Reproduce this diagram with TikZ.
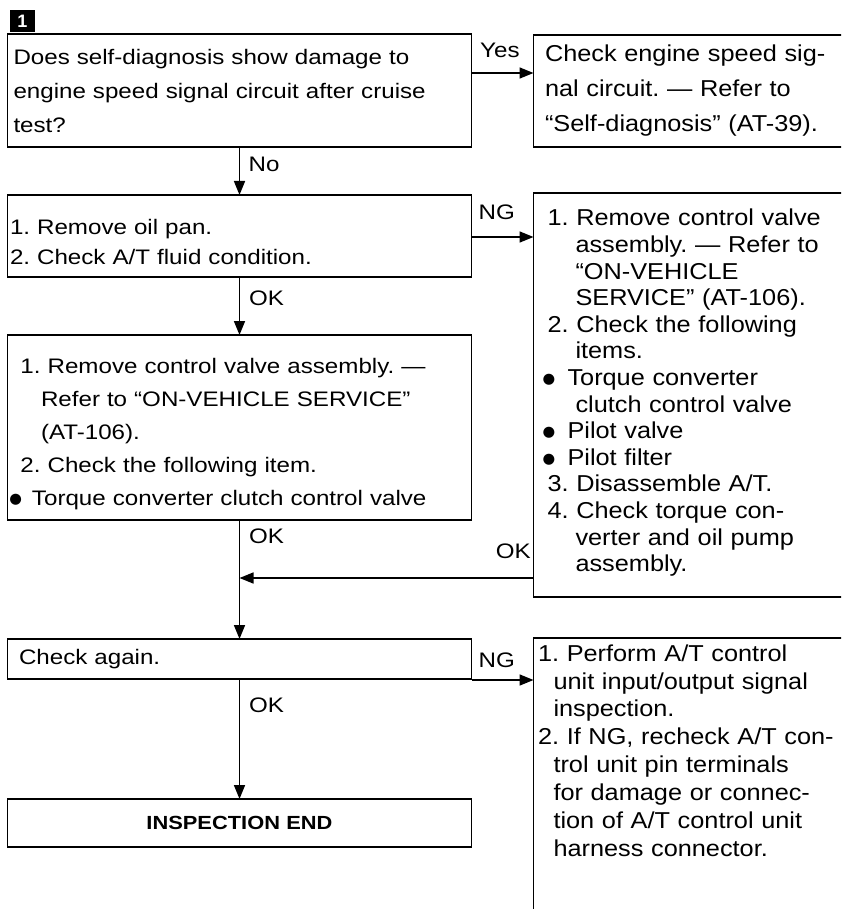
\documentclass[tikz,border=0pt]{standalone}
\usepackage{fontspec}
\setmainfont{Liberation Sans}
\newfontfamily\lff[FakeStretch=1.15]{Liberation Sans}
\newfontfamily\rff[FakeStretch=1.1]{Liberation Sans}
\newfontfamily\endff[FakeStretch=1.15]{Liberation Sans}
\newfontfamily\dvs{DejaVu Sans}
\usetikzlibrary{arrows.meta,calc}
\newcommand\blt{\raisebox{2pt}{\dvs\fontsize{14.5}{14.5}\selectfont ●}}
\newcommand\indr{\hspace*{28pt}}
\newcommand\indt{\hspace*{15.5pt}}
\begin{document}
\frenchspacing
\begin{tikzpicture}[x=1pt,y=-1pt,
  fr/.style={draw, line width=1.7pt, rectangle, anchor=north west, align=left,
    inner ysep=0pt, outer sep=0pt},
  lfont/.style={font=\lff\fontsize{21}{#1}\selectfont},
  rfont/.style={font=\rff\fontsize{23}{#1}\selectfont},
  lab/.style={font=\lff\fontsize{21}{21}\selectfont, inner sep=0pt, anchor=base west},
  arr/.style={line width=1.6pt, -{Triangle[length=14pt,width=11pt]}},
  ln/.style={line width=1.6pt}]
\useasboundingbox (0,0) rectangle (841,909);
\fill[white] (0,0) rectangle (841,909);
\clip (0,0) rectangle (841,909);

% marker
\node[fill=black, minimum width=25pt, minimum height=22pt, inner sep=0pt,
  text=white, font=\bfseries\fontsize{18}{18}\selectfont] (m) at (22.5,21) {1};

% left column
\node[fr, lfont=34, inner xsep=6pt, text width=452pt, minimum height=113pt] (b1) at (7.5,34)
 {Does self-diagnosis show damage to\\engine speed signal circuit after cruise\\test?};
\node[fr, lfont=30, inner xsep=2.5pt, text width=459pt, minimum height=82pt] (b2) at (7.5,195)
 {\rule{0pt}{27.5pt}1. Remove oil pan.\\2. Check A/T fluid condition.};
\node[fr, lfont=33, inner xsep=1pt, text width=462pt, minimum height=185pt] (b3) at (7.5,335)
 {\rule{0pt}{28.3pt}\hspace*{12pt}1. Remove control valve assembly. —\\
  \hspace*{32.5pt}Refer to “ON-VEHICLE SERVICE”\\
  \hspace*{32.5pt}(AT-106).\\
  \hspace*{12pt}2. Check the following item.\\
  \makebox[23.5pt][l]{\hspace*{1pt}\blt}Torque converter clutch control valve};
\node[fr, lfont=30, inner xsep=11.5pt, text width=441pt, minimum height=40pt] (b4) at (7.5,639)
 {Check again.};
\node[fr, align=center, font=\endff\bfseries\fontsize{19}{19}\selectfont, inner xsep=12pt,
  text width=440pt, minimum height=48pt] (b5) at (7.5,799) {INSPECTION END};

% right column
\node[fr, rfont=35, inner xsep=11.5pt, text width=313.5pt, minimum height=112pt] (r1) at (533.5,35)
 {Check engine speed sig-\\nal circuit. — Refer to\\“Self-diagnosis” (AT-39).};
\node[fr, rfont=26.6, inner xsep=14pt, text width=308.5pt, minimum height=404pt] (r2) at (533.5,193)
 {1. Remove control valve\\
  \indr assembly. — Refer to\\
  \indr “ON-VEHICLE\\
  \indr SERVICE” (AT-106).\\
  2. Check the following\\
  \indr items.\\
  \hspace*{-5pt}\makebox[25pt][l]{\blt}Torque converter\\
  \indr clutch control valve\\
  \hspace*{-5pt}\makebox[25pt][l]{\blt}Pilot valve\\
  \hspace*{-5pt}\makebox[25pt][l]{\blt}Pilot filter\\
  3. Disassemble A/T.\\
  4. Check torque con-\\
  \indr verter and oil pump\\
  \indr assembly.\rule[-9pt]{0pt}{9pt}};
\node[fr, rfont=27.9, inner xsep=4.5pt, text width=327.5pt, minimum height=290pt] (r3) at (533.5,638)
 {1. Perform A/T control\\
  \indt unit input/output signal\\
  \indt inspection.\\
  2. If NG, recheck A/T con-\\
  \indt trol unit pin terminals\\
  \indt for damage or connec-\\
  \indt tion of A/T control unit\\
  \indt harness connector.\rule[-65pt]{0pt}{65pt}};

% connectors
\draw[arr] ([yshift=-39pt]b1.north east) -- ([yshift=-38pt]r1.north west);
\draw[arr] (b1.south) -- (b2.north);
\draw[arr] ([yshift=-42pt]b2.north east) -- ([yshift=-44pt]r2.north west);
\draw[arr] (b2.south) -- (b3.north);
\coordinate (j) at ([yshift=-58pt]b3.south);
\draw[ln] (b3.south) -- (j);
\draw[arr] (j) -- (b4.north);
\draw[arr] ([yshift=-385pt]r2.north west) -- (j);
\draw[arr] ([yshift=-1pt]b4.south east) -- ([yshift=-42pt]r3.north west);
\draw[arr] (b4.south) -- (b5.north);

% labels
\node[lab] (lyes) at (480,58) {Yes};
\node[lab] (lno) at (248.5,172) {No};
\node[lab] (lng1) at (478.5,220) {NG};
\node[lab] (lok1) at (249,305) {OK};
\node[lab] (lok2) at (249,543) {OK};
\node[lab, anchor=base east] (lok3) at (531,558) {OK};
\node[lab] (lng2) at (478.5,667) {NG};
\node[lab] (lok4) at (249,712) {OK};
\end{tikzpicture}
\end{document}
